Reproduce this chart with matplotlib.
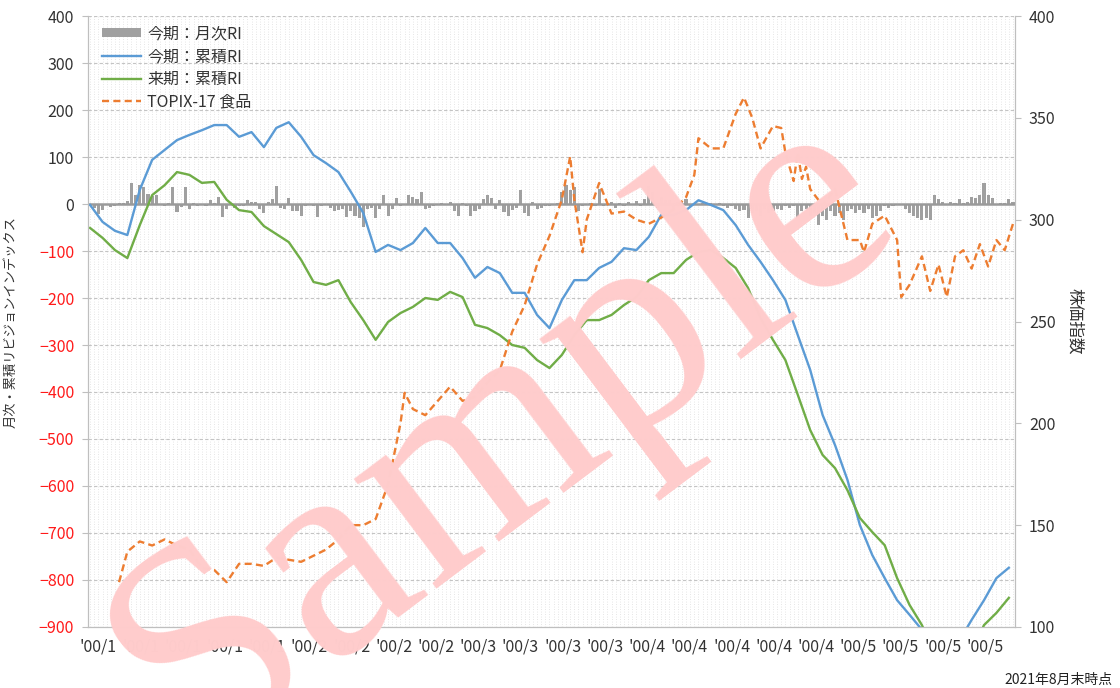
import matplotlib
matplotlib.use('Agg')
import matplotlib.pyplot as plt
from matplotlib.patches import Patch
from matplotlib.lines import Line2D
import numpy as np

plt.rcParams['font.family'] = ['Noto Sans CJK JP', 'DejaVu Sans']

# monthly revision index (bars), one value per month, 224 months
monthly_ri = [
    -5, -8, -22, -12, -3, -6, -4, 2, 3, 6,
    44, 20, 40, 37, 21, 18, 20, -3, -5, 2,
    36, -18, -6, 36, -10, 2, -5, -3, -4, 8,
    2, 15, -28, -10, -3, -8, -5, -4, 8, 5,
    5, -10, -20, 5, 10, 38, -8, -10, 12, -15,
    -15, -25, -5, -3, -5, -28, -5, -3, -8, -15,
    -12, -10, -28, -15, -25, -30, -48, -10, -8, -30,
    -10, 20, -25, -10, 12, -5, -3, 20, 15, 10,
    25, -10, -8, -5, -3, 2, -2, 5, -15, -25,
    3, -5, -25, -15, -10, 10, 20, 12, -10, 8,
    -18, -25, -12, -8, 30, -20, -25, 5, -10, -8,
    -5, -5, -3, 3, 25, 40, 30, 37, -15, -5,
    -3, 3, -5, 33, -5, -3, 5, -8, 3, -5,
    4, -3, 6, -4, 10, 38, 25, -8, 15, 8,
    8, -10, 5, 5, 10, -5, 2, -3, 3, -2,
    2, -3, 2, -5, -8, -4, -10, -15, -12, -30,
    -20, -15, -25, -10, -20, -15, -10, -12, -5, -8,
    -4, -30, -15, -10, -25, -20, -45, -25, -35, -15,
    -25, -20, -35, -15, -10, -20, -12, -20, -10, -30,
    -25, -15, -5, -8, -5, -3, -3, -10, -20, -25,
    -30, -35, -30, -35, 20, 10, 5, -3, 5, 3,
    10, 2, 4, 15, 12, 20, 45, 20, 12, -3,
    2, 3, 10, 4,
]

# cumulative RI, sampled every 3 months
cur_cum = [
    -2, -38, -57, -66, 30, 94, 115, 136, 147, 157,
    168, 168, 143, 153, 121, 162, 174, 143, 104, 87,
    68, 26, -19, -102, -87, -98, -83, -51, -83, -83,
    -115, -157, -134, -147, -189, -189, -236, -264, -204, -162,
    -162, -136, -123, -94, -98, -70, -23, -23, -13, 8,
    -2, -13, -45, -87, -123, -162, -204, -279, -353, -449,
    -513, -587, -683, -747, -796, -843, -874, -906, -950, -960,
    -930, -885, -843, -796, -774,
]
next_cum = [
    -51, -72, -98, -115, -45, 19, 40, 68, 62, 45,
    47, 9, -13, -17, -47, -64, -81, -119, -166, -172,
    -162, -209, -247, -289, -251, -232, -219, -200, -204, -187,
    -198, -257, -264, -279, -300, -306, -332, -349, -321, -279,
    -247, -247, -236, -215, -198, -162, -147, -147, -119, -102,
    -98, -115, -136, -179, -243, -289, -332, -406, -481, -534,
    -562, -609, -668, -698, -726, -796, -853, -896, -960, -980,
    -980, -950, -896, -870, -838,
]

# TOPIX-17 food index (month number, value)
topix_month = [
    7, 9, 12, 15, 18, 21, 24, 27, 30, 33,
    36, 39, 42, 45, 48, 51, 54, 57, 60, 63,
    66, 69, 72, 75, 76, 78, 81, 84, 87, 90,
    93, 96, 99, 102, 105, 108, 111, 114, 116, 117,
    119, 120, 123, 126, 129, 132, 135, 138, 141, 144,
    146, 147, 150, 153, 156, 158, 160, 162, 165, 167,
    168, 170, 171, 172, 173, 174, 177, 180, 183, 186,
    187, 189, 192, 195, 196, 198, 201, 203, 205, 207,
    209, 211, 213, 215, 217, 219, 221, 223,
]
topix_val = [
    122, 137, 142, 140, 143, 140, 138, 129, 128, 122,
    131, 131, 130, 134, 133, 132, 135, 138, 143, 150,
    150, 153, 170, 200, 215, 207, 204, 211, 218, 211,
    213, 220, 226, 245, 258, 278, 292, 310, 331, 310,
    284, 300, 318, 303, 304, 300, 298, 301, 305, 311,
    322, 340, 335, 335, 352, 360, 350, 335, 346, 345,
    333, 319, 333, 320, 326, 315, 307, 315, 290, 290,
    284, 298, 302, 290, 262, 268, 282, 265, 278, 262,
    282, 285, 276, 288, 277, 290, 285, 298,
]

x_labels = ["'00/1"] * 5 + ["'00/2"] * 4 + ["'00/3"] * 4 + ["'00/4"] * 5 + ["'00/5"] * 4

GRAY = '#a0a0a0'
BLUE = '#5b9bd5'
GREEN = '#70ad47'
ORANGE = '#ed7d31'

n = len(monthly_ri)
x_bar = np.arange(n)
x_line = np.arange(0, n, 3)[:len(cur_cum)]

fig = plt.figure(figsize=(11.2, 6.88), dpi=100)
ax = fig.add_axes([0.0786, 0.0887, 0.8277, 0.888])

# dense vertical dotted grid + horizontal dashed grid
for xv in x_bar:
    ax.axvline(xv, color='#dedede', lw=0.6, ls=(0, (1, 2)), zorder=0)
for yv in range(-900, 401, 100):
    ax.axhline(yv, color='#c4c4c4', lw=0.8, ls=(0, (3, 2)), zorder=0.5)

ax.bar(x_bar, monthly_ri, width=0.75, color=GRAY, zorder=2)
ax.axhline(0, color='#9a9a9a', lw=1.8, zorder=2.5)
ax.plot(x_line, cur_cum, color=BLUE, lw=1.7, zorder=3)
ax.plot(x_line, next_cum, color=GREEN, lw=1.7, zorder=3)

ax.set_xlim(-0.5, n - 0.5)
ax.set_ylim(-900, 400)
ax.set_yticks(range(-900, 401, 100))
ax.tick_params(axis='y', labelsize=11.5, length=4, color='#bfbfbf', pad=6)
for lbl, val in zip(ax.get_yticklabels(), range(-900, 401, 100)):
    lbl.set_color('#ff1a1a' if val < 0 else '#333333')

ax.set_xticks(2 + 10.2 * np.arange(len(x_labels)))
ax.set_xticklabels(x_labels, fontsize=11.5, color='#333333')
ax.tick_params(axis='x', length=0, pad=8)

ax.set_ylabel('月次・累積リビジョンインデックス', fontsize=9.5, color='#333333')
ax.yaxis.set_label_coords(-0.076, 0.5)

ax2 = ax.twinx()
ax2.plot(topix_month, topix_val, color=ORANGE, lw=1.7, ls=(0, (3, 1.8)), zorder=3)
ax2.set_ylim(100, 400)
ax2.set_yticks(range(100, 401, 50))
ax2.tick_params(axis='y', labelsize=11.5, length=4, color='#bfbfbf', labelcolor='#333333', pad=6)
ax2.set_ylabel('株価指数', rotation=-90, fontsize=12, color='#333333', va='center')
ax2.yaxis.set_label_coords(1.064, 0.5)

for a in (ax, ax2):
    for s in a.spines.values():
        s.set_color('#bfbfbf')
    a.spines['top'].set_visible(False)

handles = [
    Patch(facecolor=GRAY, edgecolor='none'),
    Line2D([], [], color=BLUE, lw=1.7),
    Line2D([], [], color=GREEN, lw=1.7),
    Line2D([], [], color=ORANGE, lw=1.7, ls=(0, (3, 1.8))),
]
labels = ['今期：月次RI', '今期：累積RI', '来期：累積RI', 'TOPIX-17 食品']
leg = ax2.legend(handles, labels, loc='upper left', bbox_to_anchor=(0.005, 1.0),
                 frameon=False, fontsize=11.5, handlelength=2.4, handleheight=0.5,
                 handletextpad=0.4, labelspacing=0.35, borderaxespad=0.2)
for t in leg.get_texts():
    t.set_color('#333333')

fig.text(0.9937, 0.012, '2021年8月末時点', ha='right', va='center', fontsize=10, color='#222222')

# watermark (cut by the lower edge, as in the source image)
fig.text(0.45, 0.37, 'Sample', rotation=37, fontsize=215, color='#ffcccc',
         family='Liberation Serif', ha='center', va='center', zorder=10)

fig.savefig('out.png', dpi=100)
